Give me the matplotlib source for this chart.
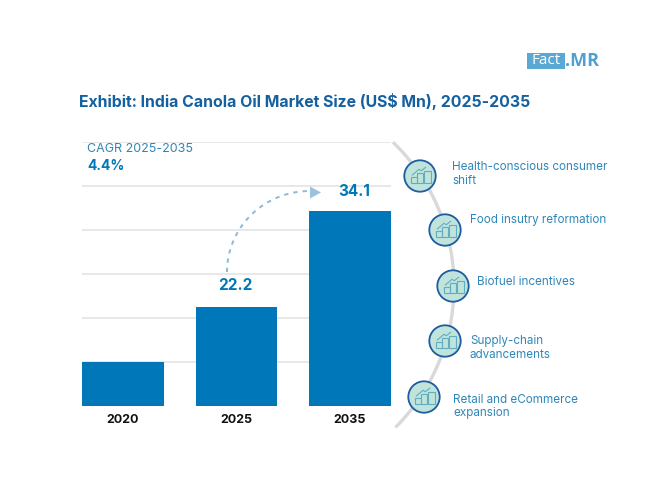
import numpy as np
import matplotlib
matplotlib.use('Agg')
import matplotlib.pyplot as plt
from matplotlib.patches import Circle, Rectangle, Polygon

plt.rcParams['font.family'] = ['Inter', 'DejaVu Sans']

years = ['2020', '2025', '2035']
# bar heights as drawn, in gridline steps (the picture is not to scale with the labels)
bar_heights = [1.0, 2.25, 4.43]
value_labels = ['', '22.2', '34.1']
grid_steps = [1, 2, 3, 4, 5, 6]

drivers = [
    'Health-conscious consumer\nshift',
    'Food insutry reformation',
    'Biofuel incentives',
    'Supply-chain\nadvancements',
    'Retail and eCommerce\nexpansion',
]
driver_circle_x = [420, 445, 453, 445, 424]
driver_circle_y = [176, 230, 286, 341, 397]
driver_text_x = [452, 470, 477, 470, 453]
driver_text_y = [174, 219.5, 282, 348, 406.5]

BLUE = '#0077b8'
TEXT_BLUE = '#2f86b8'
W, H = 650, 488


def px_axes(fig, left, top, right, bottom):
    return fig.add_axes([left / W, 1 - bottom / H, (right - left) / W, (bottom - top) / H])


fig = plt.figure(figsize=(6.5, 4.88), dpi=100)

# bars
ax = px_axes(fig, 82, 141.5, 391, 406)
x = np.arange(len(years))
ax.bar(x, bar_heights, width=0.72, color=BLUE, zorder=3)
ax.set_xlim(-0.36, 2.36)
ax.set_ylim(0, 6)
ax.set_yticks(grid_steps)
ax.set_xticks([])
ax.tick_params(left=False, labelleft=False)
ax.grid(axis='y', color='#e2e2e2', lw=1.1, zorder=0)
for s in ax.spines.values():
    s.set_visible(False)

# overlay in pixel coordinates for the annotations
ov = fig.add_axes([0, 0, 1, 1], facecolor='none')
ov.set_xlim(0, W)
ov.set_ylim(H, 0)
ov.axis('off')

# logo
ov.add_patch(Rectangle((527, 53), 38, 16, color='#5ba8d3', lw=0))
ov.text(546, 61, 'Fact', color='white', fontsize=11, ha='center', va='center', family='Open Sans')
ov.text(565, 60.5, '.MR', color='#4f9fd0', fontsize=13, fontweight='bold', ha='left', va='center', family='Open Sans')

ov.text(79, 101, 'Exhibit: India Canola Oil Market Size (US$ Mn), 2025-2035', color='#15609f',
        fontsize=11.4, fontweight='bold', ha='left', va='center')

ov.text(87, 149.5, 'CAGR 2025-2035', color=TEXT_BLUE, fontsize=9.0, ha='left', va='center')
ov.text(87, 166, '4.4%', color=BLUE, fontsize=10, fontweight='bold', ha='left', va='center')

for i, yr in enumerate(years):
    cx = [122.5, 236, 350][i]
    ov.text(cx, 420, yr, color='#111111', fontsize=9, fontweight='bold', ha='center', va='center')

ov.text(235, 285.5, value_labels[1], color=BLUE, fontsize=11, fontweight='bold', ha='center', va='center')
ov.text(354, 191.5, value_labels[2], color=BLUE, fontsize=11, fontweight='bold', ha='center', va='center')

# dotted growth arrow
t = np.linspace(np.pi, 1.5 * np.pi, 60)
ov.plot(310 + 83 * np.cos(t), 272 + 81 * np.sin(t), color='#8db8d8', lw=1.4, ls=(0, (2.2, 2.6)))
ov.add_patch(Polygon([(310, 186.5), (321, 192.5), (310, 198.5)], color='#9cc2dd', lw=0))

# grey arc behind the circles
t = np.linspace(np.radians(-46), np.radians(45), 120)
ov.plot(254 + 200 * np.cos(t), 286 + 200 * np.sin(t), color='#d9d9d9', lw=2.4, solid_capstyle='butt')

for cx, cy, label, tx, ty in zip(driver_circle_x, driver_circle_y, drivers, driver_text_x, driver_text_y):
    ov.add_patch(Circle((cx, cy), 15.7, facecolor='#c0e4dc', edgecolor='#1c5c9f', lw=1.3, zorder=4))
    # small bar-chart icon
    for dx, bw, bh in [(-9, 5.6, 6.7), (-2.8, 6, 10.7), (4.4, 6.4, 12.7)]:
        ov.add_patch(Rectangle((cx + dx, cy + 7.3 - bh), bw, bh, facecolor='none', edgecolor='#62adc0', lw=0.8, zorder=5))
    ov.plot([cx - 7.7, cx - 1, cx + 1.3, cx + 5.7], [cy - 1, cy - 6.7, cy - 5.3, cy - 8.7],
            color='#62adc0', lw=0.8, zorder=5)
    ov.text(tx, ty, label, color=TEXT_BLUE, fontsize=8.4, ha='left', va='center', linespacing=1.2, zorder=5)

fig.savefig('out.png', dpi=100)
